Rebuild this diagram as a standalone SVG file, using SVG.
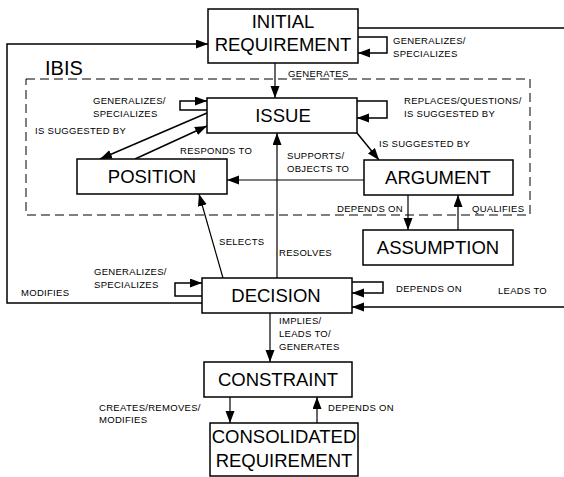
<svg xmlns="http://www.w3.org/2000/svg" width="564" height="477" viewBox="0 0 564 477">
  <style>
    .box { fill: #fff; stroke: #000; stroke-width: 1.5; }
    .big { font-family: "Liberation Sans", Arial, sans-serif; font-size: 18.5px; text-anchor: middle; fill: #000; }
    .lbl { font-family: "Liberation Sans", Arial, sans-serif; font-size: 9.5px; letter-spacing: 0.3px; fill: #000; }
    .edge { fill: none; stroke: #000; stroke-width: 1.5; }
    .thin { stroke-width: 1.2; }
    .ibis { fill: none; stroke: #000; stroke-width: 1; stroke-dasharray: 9 5; }
  </style>
  <defs>
    <marker id="arrow" markerUnits="userSpaceOnUse" markerWidth="14" markerHeight="10" refX="12" refY="4.5" orient="auto">
      <path d="M0,0 L12,4.5 L0,9 z" fill="#000"/>
    </marker>
  </defs>

  <!-- IBIS boundary -->
  <g id="ibis">
    <rect class="ibis" x="26" y="79" width="504" height="136"/>
    <text x="45" y="75" font-family="Liberation Sans, Arial, sans-serif" font-size="20">IBIS</text>
  </g>

  <!-- connectors -->
  <g id="connectors">
    <!-- generates -->
    <path class="edge thin" d="M275,63 V98" marker-end="url(#arrow)"/>
    <!-- initial requirement self loop -->
    <path class="edge" d="M358,37 H387 V53 H358" marker-end="url(#arrow)"/>
    <!-- issue self loops -->
    <path class="edge" d="M207,110 H180 V101 H207" marker-end="url(#arrow)"/>
    <path class="edge" d="M357,101 H387 V118 H357" marker-end="url(#arrow)"/>
    <!-- issue / position -->
    <path class="edge" d="M207,113 L100,159" marker-end="url(#arrow)"/>
    <path class="edge" d="M135,159 L207,126" marker-end="url(#arrow)"/>
    <!-- issue -> argument -->
    <path class="edge" d="M357,133 L379,160" marker-end="url(#arrow)"/>
    <!-- argument -> position -->
    <path class="edge thin" d="M364,180 H227" marker-end="url(#arrow)"/>
    <!-- argument / assumption -->
    <path class="edge thin" d="M408,195 V230" marker-end="url(#arrow)"/>
    <path class="edge thin" d="M458,230 V195" marker-end="url(#arrow)"/>
    <!-- decision -> position, decision -> issue -->
    <path class="edge thin" d="M223,278 L199,194" marker-end="url(#arrow)"/>
    <path class="edge thin" d="M277,278 V133" marker-end="url(#arrow)"/>
    <!-- decision self loops -->
    <path class="edge" d="M202,296 H175 V283 H202" marker-end="url(#arrow)"/>
    <path class="edge" d="M352,282 H383 V293 H352" marker-end="url(#arrow)"/>
    <!-- modifies -->
    <path class="edge" d="M202,303 H7 V44 H208" marker-end="url(#arrow)"/>
    <!-- leads to -->
    <path class="edge" d="M358,28 H580 V307 H352" marker-end="url(#arrow)"/>
    <!-- decision -> constraint -->
    <path class="edge thin" d="M270,313 V362" marker-end="url(#arrow)"/>
    <!-- constraint / consolidated requirement -->
    <path class="edge thin" d="M230,397 V423" marker-end="url(#arrow)"/>
    <path class="edge thin" d="M317,423 V397" marker-end="url(#arrow)"/>
  </g>

  <!-- connector labels -->
  <g id="labels">
    <text class="lbl" x="288" y="77">GENERATES</text>
    <text class="lbl" x="393" y="44">GENERALIZES/</text>
    <text class="lbl" x="393" y="57">SPECIALIZES</text>
    <text class="lbl" x="93" y="104">GENERALIZES/</text>
    <text class="lbl" x="93" y="117">SPECIALIZES</text>
    <text class="lbl" x="35" y="134">IS SUGGESTED BY</text>
    <text class="lbl" x="404" y="104">REPLACES/QUESTIONS/</text>
    <text class="lbl" x="404" y="117">IS SUGGESTED BY</text>
    <text class="lbl" x="379" y="147">IS SUGGESTED BY</text>
    <text class="lbl" x="180" y="154">RESPONDS TO</text>
    <text class="lbl" x="287" y="159">SUPPORTS/</text>
    <text class="lbl" x="287" y="172">OBJECTS TO</text>
    <text class="lbl" x="337" y="212">DEPENDS ON</text>
    <text class="lbl" x="472" y="212">QUALIFIES</text>
    <text class="lbl" x="219" y="245">SELECTS</text>
    <text class="lbl" x="279" y="256">RESOLVES</text>
    <text class="lbl" x="94" y="275">GENERALIZES/</text>
    <text class="lbl" x="94" y="288">SPECIALIZES</text>
    <text class="lbl" x="21" y="296">MODIFIES</text>
    <text class="lbl" x="396" y="292">DEPENDS ON</text>
    <text class="lbl" x="498" y="294">LEADS TO</text>
    <text class="lbl" x="279" y="324">IMPLIES/</text>
    <text class="lbl" x="279" y="337">LEADS TO/</text>
    <text class="lbl" x="279" y="350">GENERATES</text>
    <text class="lbl" x="99" y="411">CREATES/REMOVES/</text>
    <text class="lbl" x="99" y="423">MODIFIES</text>
    <text class="lbl" x="328" y="411">DEPENDS ON</text>
  </g>

  <!-- nodes -->
  <g id="initial-requirement">
    <rect class="box" x="208" y="9" width="150" height="54"/>
    <text class="big" x="283" y="28">INITIAL</text>
    <text class="big" x="283" y="51">REQUIREMENT</text>
  </g>
  <g id="issue">
    <rect class="box" x="207" y="98" width="150" height="35"/>
    <text class="big" x="283" y="122">ISSUE</text>
  </g>
  <g id="position">
    <rect class="box" x="77" y="159" width="150" height="35"/>
    <text class="big" x="152" y="183">POSITION</text>
  </g>
  <g id="argument">
    <rect class="box" x="364" y="160" width="149" height="35"/>
    <text class="big" x="438" y="184">ARGUMENT</text>
  </g>
  <g id="assumption">
    <rect class="box" x="363" y="230" width="150" height="35"/>
    <text class="big" x="438" y="254">ASSUMPTION</text>
  </g>
  <g id="decision">
    <rect class="box" x="202" y="278" width="150" height="35"/>
    <text class="big" x="276" y="302">DECISION</text>
  </g>
  <g id="constraint">
    <rect class="box" x="204" y="362" width="148" height="35"/>
    <text class="big" x="278" y="386">CONSTRAINT</text>
  </g>
  <g id="consolidated-requirement">
    <rect class="box" x="210" y="423" width="148" height="53"/>
    <text class="big" x="284" y="443">CONSOLIDATED</text>
    <text class="big" x="284" y="467">REQUIREMENT</text>
  </g>
</svg>
